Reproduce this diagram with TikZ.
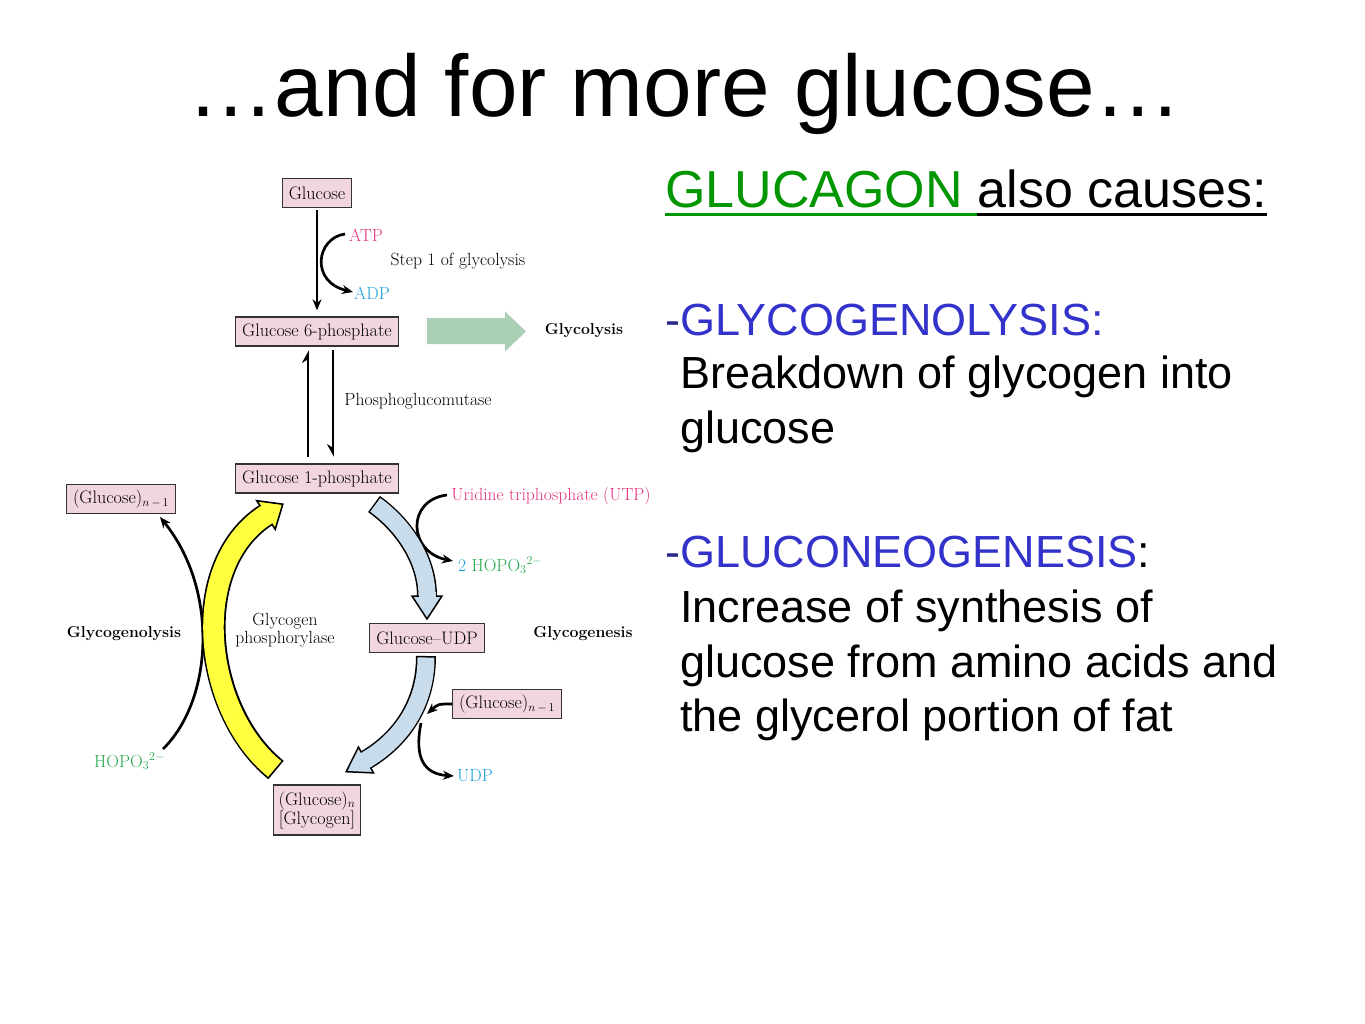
\documentclass[tikz,border=0pt]{standalone}
\usepackage{fontspec}
\newfontfamily\arialf{Liberation Sans}
\usetikzlibrary{arrows.meta,calc}
\definecolor{boxpink}{RGB}{242,214,222}
\definecolor{arrgreen}{RGB}{170,206,182}
\definecolor{arrblue}{RGB}{200,220,236}
\definecolor{arryellow}{RGB}{255,255,64}
\definecolor{magentaL}{RGB}{228,52,130}
\definecolor{cyanL}{RGB}{30,160,220}
\definecolor{greenL}{RGB}{40,170,80}
\definecolor{glucgreen}{RGB}{0,150,0}
\definecolor{gblue}{RGB}{51,51,204}
\definecolor{dashblue}{RGB}{40,40,140}
\newcommand\dgLab{\fontsize{17.6}{18}\selectfont}
\newcommand\dgBox{\fontsize{18.1}{19}\selectfont}
\newcommand\dgBold{\fontsize{15.8}{17}\selectfont\bfseries}
\newcommand\dgBody{\arialf\fontsize{45}{50}\selectfont}
\begin{document}
\begin{tikzpicture}[x=1pt,y=-1pt,
  box/.style={draw=black!80, fill=boxpink, line width=1.3pt, inner xsep=6.5pt, inner ysep=0pt, minimum height=29pt, font=\dgBox},
  lab/.style={inner sep=2pt, font=\dgLab},
  blab/.style={inner sep=2pt, font=\dgBold},
  rtext/.style={anchor=base west, inner sep=0pt, font=\dgBody},
  blk/.style={line width=2.7pt, -{Stealth[length=11pt,width=9pt]}},
  harpup/.style={line width=2.7pt, -{Stealth[harpoon,length=11pt,width=12pt]}},
  harpdn/.style={line width=2.7pt, -{Stealth[harpoon,swap,length=11pt,width=12pt]}}
]
\useasboundingbox (0,0) rectangle (1365,1024);
\fill[white] (0,0) rectangle (1365,1024);

% ---------- title ----------
\node[anchor=base, inner sep=0pt, font=\arialf\fontsize{87.3}{90}\selectfont] (title) at (685,117) {…and for more glucose…};

% ---------- right-hand text ----------
\node[anchor=base west, inner sep=0pt, font=\arialf\fontsize{52}{56}\selectfont, text=glucgreen] (hdrA) at (665,208) {GLUCAGON\ \mbox{}};
\node[anchor=base west, inner sep=0pt, font=\arialf\fontsize{52}{56}\selectfont] (hdrB) at (hdrA.base east) {also causes:};
\draw[glucgreen, line width=3pt] ([yshift=-6.5pt]hdrA.base west) -- ([yshift=-6.5pt]hdrA.base east);
\draw[black, line width=3pt] ([yshift=-6.5pt]hdrB.base west) -- ([yshift=-6.5pt]hdrB.base east);

\node[rtext] (lysisT) at (665,335) {\textcolor{dashblue}{-}\textcolor{gblue}{GLYCOGENOLYSIS:}};
\node[rtext] (lysisA) at (680,388) {Breakdown of glycogen into};
\node[rtext] (lysisB) at (680,443) {glucose};
\node[rtext] (neoT) at (665,567) {\textcolor{dashblue}{-}\textcolor{gblue}{GLUCONEOGENESIS}:};
\node[rtext] (neoA) at (680,622) {Increase of synthesis of};
\node[rtext] (neoB) at (680,677) {glucose from amino acids and};
\node[rtext] (neoC) at (680,731) {the glycerol portion of fat};

% ---------- diagram boxes ----------
\node[box] (glc) at (317,193) {Glucose};
\node[box] (g6p) at (317,331.5) {Glucose 6-phosphate};
\node[box] (g1p) at (317,478.5) {Glucose 1-phosphate};
\node[box] (glcnL) at (121,499) {(Glucose)$_{n\,-\,1}$};
\node[box] (udpg) at (427,638) {Glucose--UDP};
\node[box] (glcnR) at (507,704) {(Glucose)$_{n\,-\,1}$};
\node[box, align=center, minimum height=50pt, inner xsep=5pt] (glyc) at (317,810) {(Glucose)$_n$\\{[}Glycogen{]}};

% ---------- labels ----------
\node[lab, text=magentaL] (atp) at (366,235) {ATP};
\node[lab, text=cyanL] (adp) at (372,293) {ADP};
\node[lab] (step1) at (458,261) {Step 1 of glycolysis};
\node[blab] (glycolysis) at (584,331) {Glycolysis};
\node[lab] (pgm) at (418,401) {Phosphoglucomutase};
\node[lab, text=magentaL] (utp) at (551,496) {Uridine triphosphate (UTP)};
\node[lab, anchor=base west] (hopo2) at (456,571) {\textcolor{cyanL}{2} \textcolor{greenL}{HOPO$_3{}^{2-}$}};
\node[blab] (genesis) at (583,634) {Glycogenesis};
\node[blab] (lysis) at (124,634) {Glycogenolysis};
\node[lab, align=center] (gp) at (285,630) {Glycogen\\phosphorylase};
\node[lab, text=cyanL] (udp) at (475,776) {UDP};
\node[lab, anchor=base west, text=greenL] (hopo1) at (92,767) {HOPO$_3{}^{2-}$};

% ---------- green block arrow ----------
\fill[arrgreen] (427,318) -- (505,318) -- (505,311.5) -- (526,331.5) -- (505,351.5) -- (505,344) -- (427,344) -- cycle;

% ---------- straight black arrows ----------
\draw[blk, shorten <=2pt, shorten >=6pt] (glc.south) -- (g6p.north);
\draw[harpup, shorten <=6.5pt, shorten >=3.5pt] ([xshift=-9pt]g1p.north) -- ([xshift=-9pt]g6p.south);
\draw[harpdn, shorten <=3.5pt, shorten >=6.5pt] ([xshift=16pt]g6p.south) -- ([xshift=16pt]g1p.north);

% ---------- curved black arrows ----------
\coordinate (atpS) at (345,234);
\coordinate (adpE) at (353,292);
\draw[blk] (atpS) .. controls (316,238) and (310,282) .. (adpE);

\coordinate (utpS) at (447,495);
\coordinate (hopoE) at (453,561);
\draw[blk] (utpS) .. controls (406,500) and (408,552) .. (hopoE);

\coordinate (joinR) at (427,714);
\draw[blk] (glcnR.west) .. controls (438,704) .. (joinR);

\coordinate (udpS) at (421,723);
\draw[blk] (udpS) .. controls (414,758) and (424,774) .. ([xshift=-1pt]udp.west);

\coordinate (hopoS) at (163,749);
\coordinate (glcnLE) at (160,517);
\draw[blk] (hopoS) .. controls (213,700) and (219,590) .. (glcnLE);

% ---------- blue block arrow 1 (G1P -> Glucose-UDP) ----------
\draw[black, line width=20pt] (374,504) .. controls (402,524) and (427,558) .. (427,596);
\draw[arrblue, line width=17pt, shorten <=1.5pt] (374,504) .. controls (402,524) and (427,558) .. (427,596);
\filldraw[fill=arrblue, draw=black, line width=1.5pt, line join=miter] (412,596) -- (442,596) -- (427,619) -- cycle;
\draw[arrblue, line width=17pt] (427,592) -- (427,598);

% ---------- blue block arrow 2 (Glucose-UDP -> glycogen) ----------
\draw[black, line width=20pt] (426,656) .. controls (426,705) and (400,740) .. (366,760);
\draw[arrblue, line width=17pt, shorten <=1.5pt] (426,656) .. controls (426,705) and (400,740) .. (366,760);
\filldraw[fill=arrblue, draw=black, line width=1.5pt, line join=miter] (373.6,772.9) -- (346.2,771.7) -- (358.4,747.1) -- cycle;
\draw[arrblue, line width=17pt] (368.6,758.5) -- (364.3,761.0);

% ---------- yellow block arrow (glycogen phosphorylase) ----------
\draw[black, line width=24pt] (276,770) .. controls (202.8,710.9) and (187.2,565.7) .. (266,515);
\draw[arryellow, line width=20.5pt, shorten <=1.7pt] (276,770) .. controls (202.8,710.9) and (187.2,565.7) .. (266,515);
\filldraw[fill=arryellow, draw=black, line width=1.6pt, line join=miter] (275.2,529.3) -- (282.8,504.2) -- (256.8,500.7) -- cycle;
\draw[arryellow, line width=20.5pt] (263.5,516.6) -- (267.7,513.9);

\end{tikzpicture}
\end{document}
